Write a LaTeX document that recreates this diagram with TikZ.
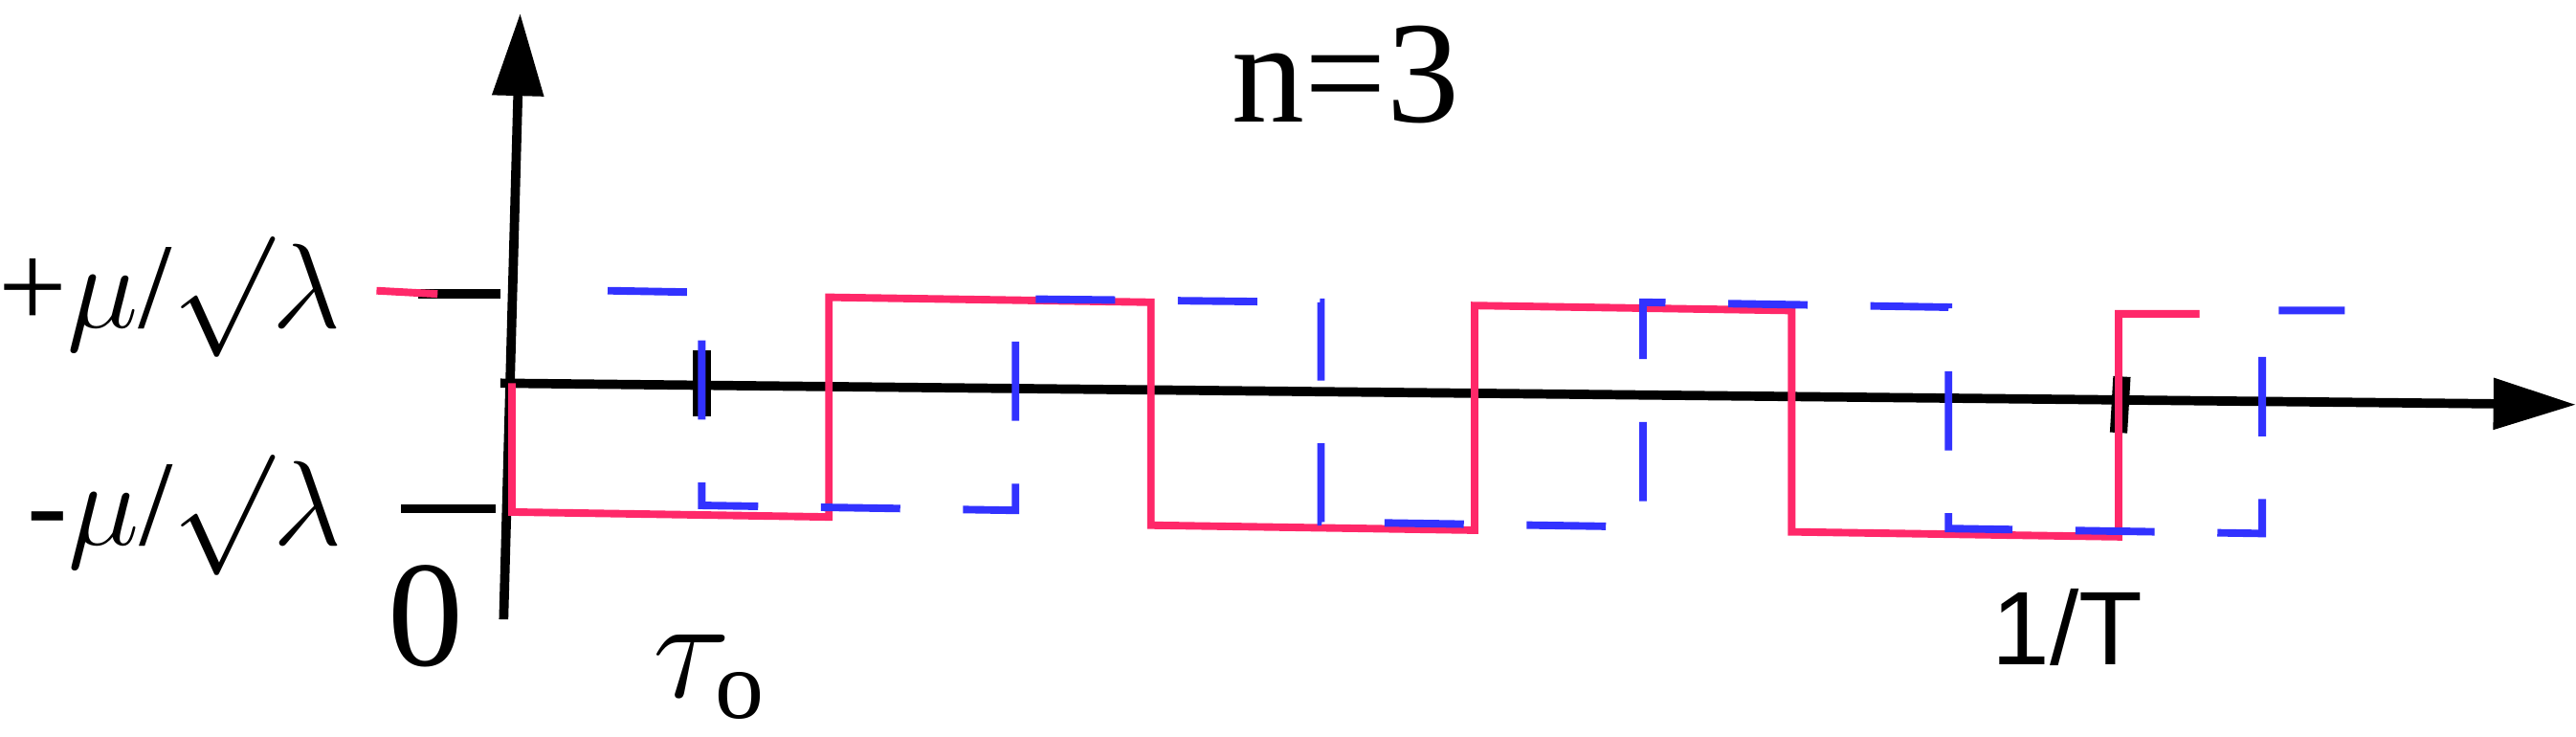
\documentclass[tikz,border=0pt]{standalone}
\usepackage{fontspec}
\setmainfont{Liberation Serif}
\newfontfamily\sansf{Liberation Sans}
\usetikzlibrary{arrows.meta}
\begin{document}
\begin{tikzpicture}[x=0.01cm,y=-0.01cm,
  ax/.style={line width=1.6pt,-{Triangle[length=0.5cm,width=0.3cm]}},
  tk/.style={line width=1.6pt},
  red/.style={color={rgb,255:red,255;green,40;blue,105},line width=1.3pt},
  blu/.style={color={rgb,255:red,50;green,50;blue,255},line width=1.3pt,dash pattern=on 0.48cm off 0.38cm},
  lab/.style={inner sep=0pt,font=\fontsize{21}{21}\selectfont}]
\useasboundingbox (0,0) rectangle (1560,446);
\coordinate (o) at (305,375);
\coordinate (yt) at (315,8);
\coordinate (xo) at (303,232);
\coordinate (xt) at (1560,245);
\draw[ax] (o) -- (yt);
\draw[ax] (xo) -- (xt);
\draw[tk] (253,178) -- (303,178);
\draw[tk] (243,308) -- (300,308);
\draw[line width=3pt] (425,212) -- (425,252);
\draw[line width=3pt] (1285,228) -- (1283,262);
\draw[red] (228,176) -- (265,178);
\draw[red] (310,232) -- (310,310) -- (502,313) -- (502,180) -- (697,183) -- (697,318) -- (893,321) -- (893,185) -- (1085,188) -- (1085,322) -- (1283,325) -- (1283,190) -- (1332,190);
\draw[blu] (368,176) -- (425,177) -- (425,306) -- (615,309) -- (615,181) -- (800,183) -- (800,316) -- (995,319) -- (995,183) -- (1180,186) -- (1180,320) -- (1370,323) -- (1370,188) -- (1420,188);
\node[lab,font=\fontsize{25}{25}\selectfont] (n) at (815,45) {n=3};
\node[lab] (p) at (103,180) {+$\mu$/$\surd\lambda$};
\node[lab] (m) at (112,312) {-$\mu$/$\surd\lambda$};
\node[lab,font=\fontsize{26}{26}\selectfont] (z) at (258,373) {0};
\node[lab,font=\fontsize{24}{24}\selectfont] (tau) at (430,410) {$\tau_{\mathrm{o}}$};
\node[lab,font=\sansf\fontsize{18}{18}\selectfont] (T) at (1252,380) {1/T};
\end{tikzpicture}
\end{document}
